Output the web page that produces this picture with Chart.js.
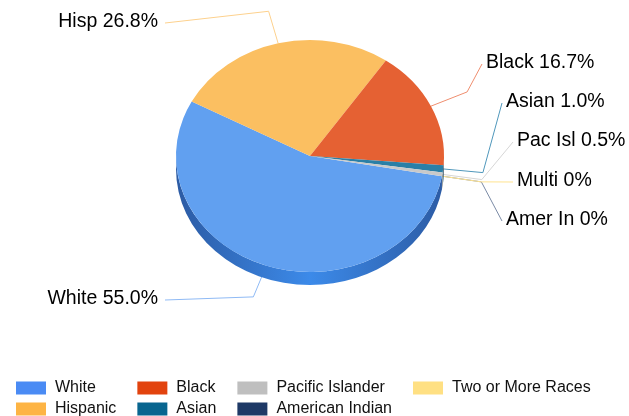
<!DOCTYPE html>
<html>
<head>
<meta charset="utf-8">
<script src="https://cdn.jsdelivr.net/npm/chart.js@4.4.1/dist/chart.umd.min.js"></script>
<style>
    html, body { margin: 0; padding: 0; background: #fff; }
    canvas { display: block; }
</style>
</head>
<body>
<canvas id="chart" width="629" height="416"></canvas>
<script>
'use strict';

// Chart data
const categories = ['White', 'Hispanic', 'Black', 'Asian', 'Pacific Islander', 'American Indian', 'Two or More Races'];
const shortNames = ['White', 'Hisp', 'Black', 'Asian', 'Pac Isl', 'Amer In', 'Multi'];
const shares = [55.0, 26.8, 16.7, 1.0, 0.5, 0, 0];

// Colors
const faceColors = ['#61a0f0', '#fbbf61', '#e56133', '#2a7fa6', '#c9c9c9', '#34507e', '#ffe48c'];
const legendColors = ['#4a8bf4', '#fdb444', '#e2430e', '#08658f', '#bfbfbf', '#1e3966', '#ffe083'];
const lineColors = ['#8fbaf5', '#fdd18d', '#ef8e6f', '#4f97bb', '#d6d6d6', '#7a8aa5', '#ffe38f'];
const sideEdge = ['#2c5ba4', '#b8852f', '#a23d1c', '#1b5575', '#8c8c8c', '#1f3358', '#c7ad5c'];
const sideMid = ['#3c8ae9', '#e0a445', '#c94c23', '#216a90', '#a8a8a8', '#2a4470', '#e0c46a'];

// Pie look
const tilt = 116 / 134;
const depth = 13;
const labelFont = '19.5px "Liberation Sans", Arial, sans-serif';
const legendFont = '16px "Liberation Sans", Arial, sans-serif';

// Label text anchors, same order as categories
const labelLayout = [
    { x: 158, y: 299, align: 'right' },
    { x: 158, y: 22, align: 'right' },
    { x: 486, y: 63, align: 'left' },
    { x: 506, y: 102, align: 'left' },
    { x: 517, y: 141, align: 'left' },
    { x: 506, y: 220, align: 'left' },
    { x: 517, y: 181, align: 'left' }
];

function formatShare(v) {
    return v == 0 ? '0%' : v.toFixed(1) + '%';
}

// Fake 3D pie: leader lines, side wall, squashed top face
const pie3d = {
    id: 'pie3d',
    beforeDatasetsDraw(chart) {
        const ctx = chart.ctx;
        const arcs = chart.getDatasetMeta(0).data;
        const cx = arcs[0].x, cy = arcs[0].y;
        const rx = arcs[0].outerRadius, ry = rx * tilt;

        // Leader lines go under the pie
        arcs.forEach((arc, i) => {
            const mid = (arc.startAngle + arc.endAngle) / 2;
            const c = Math.cos(mid), s = Math.sin(mid);
            const lay = labelLayout[i];
            const endX = lay.align == 'left' ? lay.x - 4 : lay.x + 7;
            ctx.beginPath();
            ctx.moveTo(cx + rx * c, cy + ry * s);
            ctx.lineTo(cx + (rx + 40) * c, cy + (ry + 33) * s);
            ctx.lineTo(endX, lay.y + 1);
            ctx.strokeStyle = lineColors[i];
            ctx.lineWidth = 1;
            ctx.stroke();
        });

        // Side wall, front half only
        arcs.forEach((arc, i) => {
            const a = arc.startAngle, b = arc.endAngle;
            if (b <= a) return;
            [0, 2 * Math.PI].forEach((k) => {
                const lo = Math.max(a, k), hi = Math.min(b, k + Math.PI);
                if (hi <= lo) return;
                const grad = ctx.createLinearGradient(cx - rx, 0, cx + rx, 0);
                grad.addColorStop(0, sideEdge[i]);
                grad.addColorStop(0.5, sideMid[i]);
                grad.addColorStop(1, sideEdge[i]);
                ctx.beginPath();
                ctx.ellipse(cx, cy, rx, ry, 0, lo, hi);
                ctx.ellipse(cx, cy + depth, rx, ry, 0, hi, lo, true);
                ctx.closePath();
                ctx.fillStyle = grad;
                ctx.fill();
            });
        });

        // Squash the pie into an ellipse
        ctx.save();
        ctx.translate(0, cy * (1 - tilt));
        ctx.scale(1, tilt);
    },
    afterDatasetsDraw(chart) {
        const ctx = chart.ctx;
        ctx.restore();

        // Slice labels
        ctx.save();
        ctx.font = labelFont;
        ctx.fillStyle = '#000';
        ctx.textBaseline = 'middle';
        shortNames.forEach((name, i) => {
            const lay = labelLayout[i];
            ctx.textAlign = lay.align;
            ctx.fillText(name + ' ' + formatShare(shares[i]), lay.x, lay.y);
        });

        // Legend, two rows filled column by column
        ctx.font = legendFont;
        ctx.textAlign = 'left';
        let x = 16;
        for (let col = 0; col * 2 < categories.length; col++) {
            let maxW = 0;
            for (let row = 0; row < 2; row++) {
                const i = col * 2 + row;
                if (i >= categories.length) break;
                const y = 388 + row * 21;
                ctx.fillStyle = legendColors[i];
                ctx.fillRect(x, y - 6.5, 30, 13);
                ctx.fillStyle = '#111';
                ctx.fillText(categories[i], x + 39, y);
                maxW = Math.max(maxW, ctx.measureText(categories[i]).width);
            }
            x += 39 + maxW + 21;
        }
        ctx.restore();
    }
};

new Chart(document.getElementById('chart'), {
    type: 'pie',
    data: {
        labels: categories,
        datasets: [{
            data: shares,
            backgroundColor: faceColors,
            borderWidth: 0,
            clip: false
        }]
    },
    options: {
        responsive: false,
        devicePixelRatio: 1,
        animation: false,
        events: [],
        rotation: 100,
        layout: {
            padding: { left: 176, right: 185, top: 22, bottom: 126 }
        },
        plugins: {
            legend: { display: false },
            tooltip: { enabled: false }
        }
    },
    plugins: [pie3d]
});
</script>
</body>
</html>
